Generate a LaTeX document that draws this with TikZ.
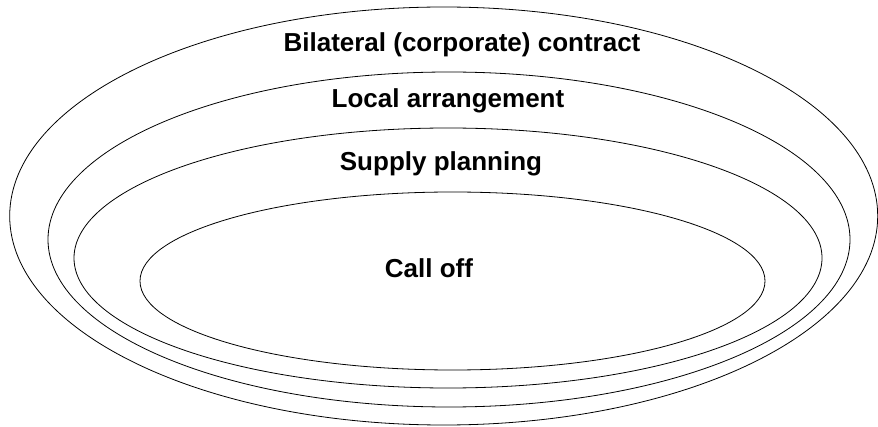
\documentclass[tikz,border=0pt]{standalone}
\usepackage{fontspec}
\setmainfont{Liberation Sans}
\usetikzlibrary{shapes.geometric}

\begin{document}
\begin{tikzpicture}[x=1pt,y=1pt,
    ring/.style={ellipse,draw,line width=0.8pt,inner sep=0pt},
    lbl/.style={anchor=base,font=\fontsize{26}{30}\selectfont\bfseries}]
    \useasboundingbox (0,0) rectangle (878,426);
    \node[ring,minimum width=868pt,minimum height=418pt] (contract) at (443.7,210) {};
    \node[ring,minimum width=802pt,minimum height=335pt] (local) at (449,186.5) {};
    \node[ring,minimum width=748pt,minimum height=260pt] (supply) at (448,168) {};
    \node[ring,minimum width=625pt,minimum height=178pt] (calloff) at (452.5,145) {};
    \node[lbl] (Tcontract) at (462,374) {Bilateral (corporate) contract};
    \node[lbl] (Tlocal) at (448,318) {Local arrangement};
    \node[lbl] (Tsupply) at (441,255) {Supply planning};
    \node[lbl] (Tcalloff) at (429,148) {Call off};
  \end{tikzpicture}
\end{document}
